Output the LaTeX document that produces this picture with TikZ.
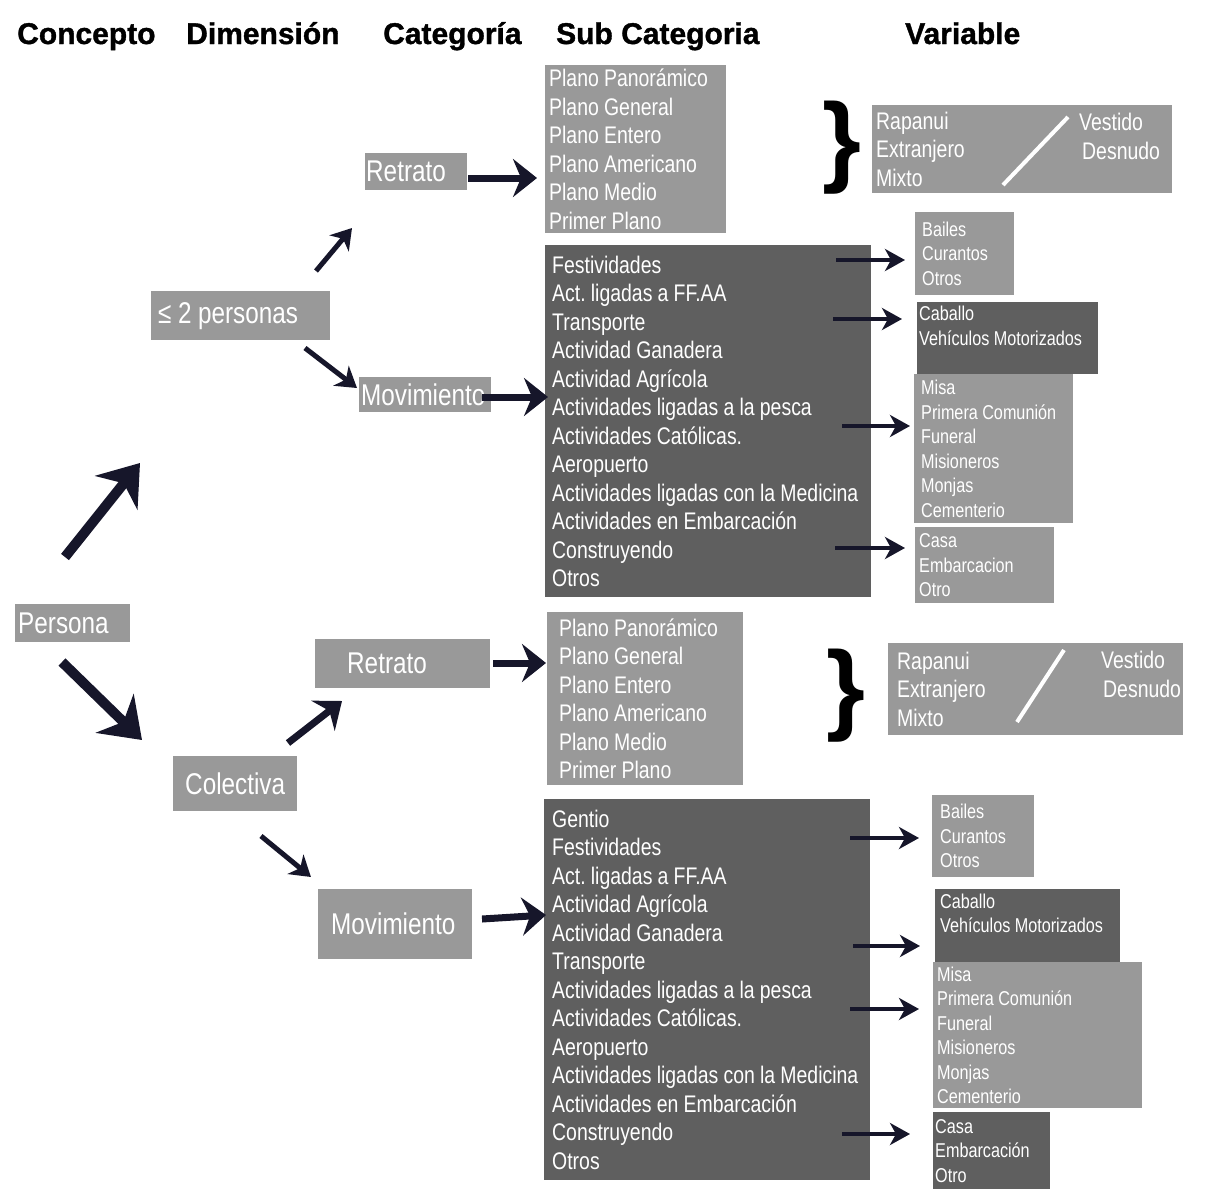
\documentclass[tikz,border=0pt]{standalone}
\usepackage{fontspec}
\setmainfont{Liberation Sans}[FakeStretch=0.81]
\newfontfamily\headfont{Liberation Sans}[FakeBold=1.2]
\newfontfamily\bracefont{Liberation Sans}
\usetikzlibrary{arrows.meta}
\definecolor{gris}{HTML}{999999}
\definecolor{grisoscuro}{HTML}{5F5F5F}
\definecolor{flecha}{HTML}{16162A}
\hyphenpenalty=10000
\tikzset{
  titulo/.style={anchor=base west, inner sep=0pt, font=\headfont\bfseries\fontsize{30}{36}\selectfont},
  caja/.style={anchor=north west, fill=gris, text=white, inner ysep=0pt, align=left},
  cat/.style={caja, font=\fontsize{30}{36}\selectfont, execute at begin node={\frenchspacing\spaceskip=6.5pt\relax}},
  lista/.style={caja, font=\fontsize{24}{28.5}\selectfont, execute at begin node={\frenchspacing\spaceskip=5.2pt\relax}},
  var/.style={caja, font=\fontsize{20}{24.5}\selectfont, execute at begin node={\frenchspacing\spaceskip=4.4pt\relax}},
  oscura/.style={fill=grisoscuro},
  llave/.style={inner sep=0pt, font=\bracefont\bfseries\fontsize{100}{100}\selectfont},
  raya/.style={draw=white, line width=4pt},
  flechagrande/.style={draw=flecha, line width=10pt, -{Stealth[length=38pt,width=54pt,inset=12pt]}},
  flechamedia/.style={draw=flecha, line width=7pt, -{Stealth[length=24pt,width=38pt,inset=8pt]}},
  flechafina/.style={draw=flecha, line width=5pt, -{Stealth[length=20pt,width=25pt,inset=6pt]}},
  flechita/.style={draw=flecha, line width=3.5pt, -{Stealth[length=20pt,width=22pt,inset=6pt]}}
}
\begin{document}
\begin{tikzpicture}[x=1pt,y=-1pt]
\useasboundingbox (0,0) rectangle (1211,1189);

% encabezados
\node[titulo] (tConcepto) at (17,44) {Concepto};
\node[titulo] (tDimension) at (186,44) {Dimensión};
\node[titulo] (tCategoria) at (383,44) {Categoría};
\node[titulo] (tSubcat) at (556,44) {Sub Categoria};
\node[titulo] (tVariable) at (905,44) {Variable};

% concepto, dimension, categoria
\node[cat, text width=109pt, inner xsep=3pt, minimum height=38pt] (persona) at (15,604) {Persona};
\node[cat, text width=165pt, inner xsep=7pt, minimum height=49pt] (dimA) at (151,291) {≤ 2 personas};
\node[cat, text width=114pt, inner xsep=5pt, minimum height=55pt, align=center] (dimB) at (173,756) {Colectiva};
\node[cat, text width=100pt, inner xsep=1pt, minimum height=37pt] (retratoA) at (365,153) {Retrato};
\node[cat, text width=128pt, inner xsep=2pt, minimum height=35pt] (movA) at (359,377) {Movimiento};
\node[cat, text width=111pt, inner xsep=32pt, minimum height=49pt] (retratoB) at (315,639) {Retrato};
\node[cat, text width=128pt, inner xsep=13pt, minimum height=70pt] (movB) at (318,889) {Movimiento};

% sub categorias
\node[lista, text width=173pt, inner xsep=4pt, minimum height=168pt] (planosA) at (545,65)
  {Plano Panorámico\\Plano General\\Plano Entero\\Plano Americano\\Plano Medio\\Primer Plano};
\node[lista, oscura, text width=312pt, inner xsep=7pt, minimum height=352pt] (actA) at (545,245)
  {Festividades\\Act. ligadas a FF.AA\\Transporte\\Actividad Ganadera\\Actividad Agrícola\\Actividades ligadas a la pesca\\Actividades Católicas.\\Aeropuerto\\Actividades ligadas con la Medicina\\Actividades en Embarcación\\Construyendo\\Otros};
\node[lista, text width=172pt, inner xsep=12pt, minimum height=173pt] (planosB) at (547,612)
  {Plano Panorámico\\Plano General\\Plano Entero\\Plano Americano\\Plano Medio\\Primer Plano};
\node[lista, oscura, text width=310pt, inner xsep=8pt, minimum height=381pt] (actB) at (544,799)
  {Gentio\\Festividades\\Act. ligadas a FF.AA\\Actividad Agrícola\\Actividad Ganadera\\Transporte\\Actividades ligadas a la pesca\\Actividades Católicas.\\Aeropuerto\\Actividades ligadas con la Medicina\\Actividades en Embarcación\\Construyendo\\Otros};

% variables
\node[llave] (llaveA) at (842,148) {\}};
\node[lista, text width=292pt, inner xsep=4pt, minimum height=88pt] (origenA) at (872,105) {Rapanui\\Extranjero\\Mixto};
\node[lista, fill=none, inner sep=0pt] (ropaA) at (1079,113) {Vestido\\\hspace{3pt}Desnudo};
\draw[raya] (1003,185) -- (1068,117);
\node[var, text width=85pt, inner xsep=7pt, minimum height=83pt] (bailesA) at (915,212) {Bailes\\Curantos\\Otros};
\node[var, oscura, text width=177pt, inner xsep=2pt, minimum height=72pt] (caballoA) at (917,302) {Caballo\\Vehículos Motorizados\\~};
\node[var, text width=145pt, inner xsep=7pt, minimum height=149pt] (misaA) at (914,374) {Misa\\Primera Comunión\\Funeral\\Misioneros\\Monjas\\Cementerio};
\node[var, text width=131pt, inner xsep=4pt, minimum height=76pt] (casaA) at (915,527) {Casa\\Embarcacion\\Otro};

\node[llave] (llaveB) at (846,696) {\}};
\node[lista, text width=277pt, inner xsep=9pt, minimum height=92pt] (origenB) at (888,643) {Rapanui\\Extranjero\\Mixto};
\node[lista, fill=none, inner sep=0pt] (ropaB) at (1101,651) {Vestido\\\hspace{2pt}Desnudo};
\draw[raya] (1017,722) -- (1064,650);
\node[var, text width=86pt, inner xsep=8pt, minimum height=82pt] (bailesB) at (932,795) {Bailes\\Curantos\\Otros};
\node[var, oscura, text width=175pt, inner xsep=5pt, minimum height=73pt] (caballoB) at (935,889) {Caballo\\Vehículos Motorizados\\~};
\node[var, text width=201pt, inner xsep=4pt, minimum height=146pt] (misaB) at (933,962) {Misa\\Primera Comunión\\Funeral\\Misioneros\\Monjas\\Cementerio};
\node[var, oscura, text width=113pt, inner xsep=2pt, minimum height=77pt] (casaB) at (933,1112) {Casa\\Embarcación\\Otro};

% flechas grandes
\coordinate (a1) at (65,557);   \coordinate (b1) at (140,463);
\coordinate (a2) at (62,662);   \coordinate (b2) at (142,740);
\draw[flechagrande] (a1) -- (b1);
\draw[flechagrande] (a2) -- (b2);

\coordinate (a3) at (316,271);  \coordinate (b3) at (352,228);
\coordinate (a4) at (305,348);  \coordinate (b4) at (357,388);
\coordinate (a5) at (288,743);  \coordinate (b5) at (342,701);
\coordinate (a6) at (261,836);  \coordinate (b6) at (311,877);
\draw[flechafina] (a3) -- (b3);
\draw[flechafina] (a4) -- (b4);
\draw[flechamedia] (a5) -- (b5);
\draw[flechafina] (a6) -- (b6);

\coordinate (a7) at (468,178);  \coordinate (b7) at (537,178);
\coordinate (a8) at (482,397);  \coordinate (b8) at (548,397);
\coordinate (a9) at (493,663);  \coordinate (b9) at (546,663);
\coordinate (a10) at (482,919); \coordinate (b10) at (546,915);
\draw[flechamedia] (a7) -- (b7);
\draw[flechamedia] (a8) -- (b8);
\draw[flechamedia] (a9) -- (b9);
\draw[flechamedia] (a10) -- (b10);

% flechas a variables
\coordinate (c1) at (836,260);  \coordinate (d1) at (905,260);
\coordinate (c2) at (833,319);  \coordinate (d2) at (902,319);
\coordinate (c3) at (842,426);  \coordinate (d3) at (910,426);
\coordinate (c4) at (835,548);  \coordinate (d4) at (905,548);
\coordinate (c5) at (850,838);  \coordinate (d5) at (919,838);
\coordinate (c6) at (853,946);  \coordinate (d6) at (920,946);
\coordinate (c7) at (850,1009); \coordinate (d7) at (919,1009);
\coordinate (c8) at (842,1134); \coordinate (d8) at (910,1134);
\draw[flechita] (c1) -- (d1);
\draw[flechita] (c2) -- (d2);
\draw[flechita] (c3) -- (d3);
\draw[flechita] (c4) -- (d4);
\draw[flechita] (c5) -- (d5);
\draw[flechita] (c6) -- (d6);
\draw[flechita] (c7) -- (d7);
\draw[flechita] (c8) -- (d8);
\end{tikzpicture}
\end{document}
